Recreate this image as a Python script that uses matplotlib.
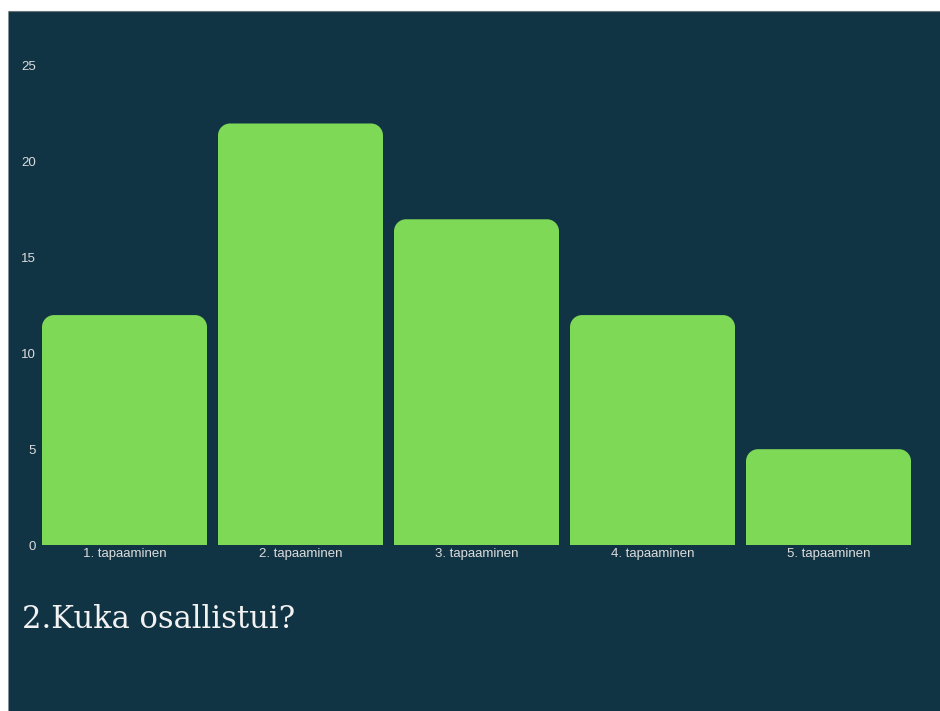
import numpy as np
import matplotlib
matplotlib.use("Agg")
import matplotlib.pyplot as plt
from matplotlib.path import Path
from matplotlib.patches import PathPatch, Rectangle

# data
categories = ["1. tapaaminen", "2. tapaaminen", "3. tapaaminen", "4. tapaaminen", "5. tapaaminen"]
values = [12, 22, 17, 12, 5]
y_ticks = [0, 5, 10, 15, 20, 25]
title = "2.Kuka osallistui?"

bg = "#113445"
green = "#7ed957"
label_col = "#dcdcdc"

W, H = 940, 711
fig = plt.figure(figsize=(W / 100, H / 100), dpi=100)
fig.patch.set_facecolor("white")

# dark panel with a thin grey edge at top / left
fig.add_artist(Rectangle((8 / W, 0), 1, (H - 11) / H, transform=fig.transFigure,
                         facecolor=bg, edgecolor="none", zorder=0))
fig.add_artist(plt.Line2D([8 / W, 1], [(H - 11) / H] * 2, transform=fig.transFigure,
                          color="#6b7377", lw=0.8))
fig.add_artist(plt.Line2D([8 / W] * 2, [0, (H - 11) / H], transform=fig.transFigure,
                          color="#b5babd", lw=0.5))

ax_left, ax_right = 36.5, 916.5
y0_px, ymax = 545, 26
px_per_unit = (545 - 66) / 25
ax_bottom = H - y0_px
ax_top = H - (y0_px - ymax * px_per_unit)
ax = fig.add_axes([ax_left / W, ax_bottom / H, (ax_right - ax_left) / W, (ax_top - ax_bottom) / H])
ax.set_facecolor("none")

x = np.arange(len(categories))
width = 0.9375
bars = ax.bar(x, values, width=width, color="none")
ax.set_xlim(-0.5, len(categories) - 0.5)
ax.set_ylim(0, ymax)

# rounded top corners (radius in pixels converted to data units)
r_px = 12
rx = r_px / ((ax_right - ax_left) / len(categories))
ry = r_px / px_per_unit
k = 0.5523
for b in bars:
    x0, x1 = b.get_x(), b.get_x() + b.get_width()
    h = b.get_height()
    verts = [(x0, 0), (x0, h - ry),
             (x0, h - ry + k * ry), (x0 + rx - k * rx, h), (x0 + rx, h),
             (x1 - rx, h),
             (x1 - rx + k * rx, h), (x1, h - ry + k * ry), (x1, h - ry),
             (x1, 0), (x0, 0)]
    codes = [Path.MOVETO, Path.LINETO,
             Path.CURVE4, Path.CURVE4, Path.CURVE4,
             Path.LINETO,
             Path.CURVE4, Path.CURVE4, Path.CURVE4,
             Path.LINETO, Path.CLOSEPOLY]
    ax.add_patch(PathPatch(Path(verts, codes), facecolor=green, edgecolor="none"))

ax.set_xticks(x)
ax.set_xticklabels(categories)
ax.set_yticks(y_ticks)
ax.tick_params(axis="x", length=0, pad=2, labelsize=9.5, labelcolor=label_col)
ax.tick_params(axis="y", length=0, pad=0.5, labelsize=9.5, labelcolor=label_col)
for lab in ax.get_xticklabels() + ax.get_yticklabels():
    lab.set_fontfamily("Liberation Sans")
for s in ax.spines.values():
    s.set_visible(False)

fig.text(22 / W, (H - 628) / H, title, fontsize=22, color="#f2f2f2",
         family="DejaVu Serif", ha="left", va="baseline")

fig.savefig("out.png", dpi=100, facecolor=fig.get_facecolor())
